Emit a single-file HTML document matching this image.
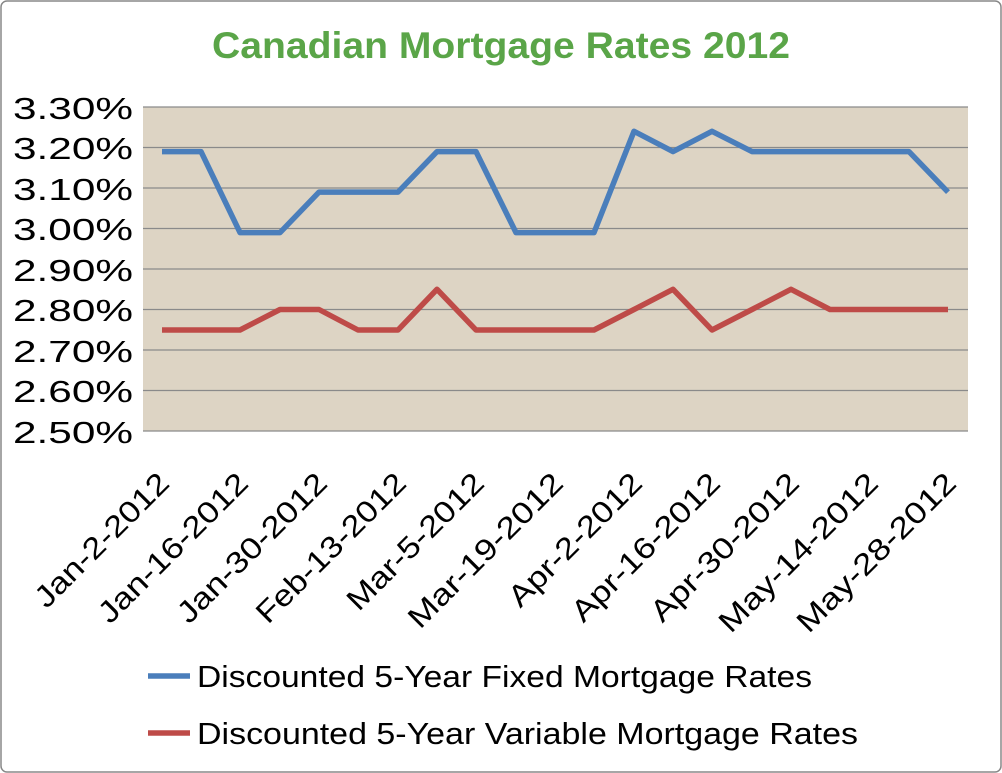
<!DOCTYPE html>
<html><head><style>body{margin:0;background:#fff}svg{display:block}</style></head><body>
<svg width="1002" height="773" xmlns="http://www.w3.org/2000/svg" font-family="Liberation Sans, sans-serif">
<rect x="1" y="1" width="1000" height="771" rx="6" fill="#fff" stroke="#888" stroke-width="1.5"/>
<text x="501" y="58" text-anchor="middle" font-size="37" font-weight="bold" fill="#5aa548" textLength="578" lengthAdjust="spacingAndGlyphs">Canadian Mortgage Rates 2012</text>
<rect x="143" y="107" width="825" height="324" fill="#ddd4c4"/>
<g stroke="#8a8a8a" stroke-width="1.3">
<line x1="143" y1="107" x2="968" y2="107"/><line x1="143" y1="147.5" x2="968" y2="147.5"/><line x1="143" y1="188" x2="968" y2="188"/><line x1="143" y1="228.5" x2="968" y2="228.5"/><line x1="143" y1="269" x2="968" y2="269"/><line x1="143" y1="309.5" x2="968" y2="309.5"/><line x1="143" y1="350" x2="968" y2="350"/><line x1="143" y1="390.5" x2="968" y2="390.5"/><line x1="143" y1="431" x2="968" y2="431"/>
</g>
<g font-size="31" text-anchor="end" fill="#000">
<text x="133" y="119" textLength="120" lengthAdjust="spacingAndGlyphs">3.30%</text><text x="133" y="159" textLength="120" lengthAdjust="spacingAndGlyphs">3.20%</text><text x="133" y="200" textLength="120" lengthAdjust="spacingAndGlyphs">3.10%</text><text x="133" y="240" textLength="120" lengthAdjust="spacingAndGlyphs">3.00%</text><text x="133" y="281" textLength="120" lengthAdjust="spacingAndGlyphs">2.90%</text><text x="133" y="321" textLength="120" lengthAdjust="spacingAndGlyphs">2.80%</text><text x="133" y="362" textLength="120" lengthAdjust="spacingAndGlyphs">2.70%</text><text x="133" y="402" textLength="120" lengthAdjust="spacingAndGlyphs">2.60%</text><text x="133" y="443" textLength="120" lengthAdjust="spacingAndGlyphs">2.50%</text>
</g>
<polyline fill="none" stroke="#4a7ebb" stroke-width="5.5" stroke-linejoin="round" points="162,151.6 201,151.6 240,232.6 280,232.6 319,192.1 358,192.1 398,192.1 437,151.6 476,151.6 516,232.6 555,232.6 594,232.6 634,131.3 673,151.6 712,131.3 752,151.6 791,151.6 830,151.6 870,151.6 909,151.6 948,192.1"/>
<polyline fill="none" stroke="#be4b48" stroke-width="5.5" stroke-linejoin="round" points="162,330 201,330 240,330 280,309.5 319,309.5 358,330 398,330 437,289.3 476,330 516,330 555,330 594,330 634,309.5 673,289.3 712,330 752,309.5 791,289.3 830,309.5 870,309.5 909,309.5 948,309.5"/>
<g font-size="30" text-anchor="end" fill="#000">
<text transform="translate(171,485) rotate(-45)" textLength="176" lengthAdjust="spacingAndGlyphs">Jan-2-2012</text>
<text transform="translate(250,485) rotate(-45)" textLength="198" lengthAdjust="spacingAndGlyphs">Jan-16-2012</text>
<text transform="translate(329,485) rotate(-45)" textLength="198" lengthAdjust="spacingAndGlyphs">Jan-30-2012</text>
<text transform="translate(408,485) rotate(-45)" textLength="198" lengthAdjust="spacingAndGlyphs">Feb-13-2012</text>
<text transform="translate(486,485) rotate(-45)" textLength="180" lengthAdjust="spacingAndGlyphs">Mar-5-2012</text>
<text transform="translate(565,485) rotate(-45)" textLength="205" lengthAdjust="spacingAndGlyphs">Mar-19-2012</text>
<text transform="translate(644,485) rotate(-45)" textLength="175" lengthAdjust="spacingAndGlyphs">Apr-2-2012</text>
<text transform="translate(722,485) rotate(-45)" textLength="196" lengthAdjust="spacingAndGlyphs">Apr-16-2012</text>
<text transform="translate(801,485) rotate(-45)" textLength="196" lengthAdjust="spacingAndGlyphs">Apr-30-2012</text>
<text transform="translate(880,485) rotate(-45)" textLength="211" lengthAdjust="spacingAndGlyphs">May-14-2012</text>
<text transform="translate(958,485) rotate(-45)" textLength="211" lengthAdjust="spacingAndGlyphs">May-28-2012</text>
</g>
<line x1="148" y1="676" x2="190" y2="676" stroke="#4a7ebb" stroke-width="5.5"/>
<text x="197" y="687" font-size="31" textLength="615" lengthAdjust="spacingAndGlyphs">Discounted 5-Year Fixed Mortgage Rates</text>
<line x1="148" y1="733" x2="190" y2="733" stroke="#be4b48" stroke-width="5.5"/>
<text x="197" y="744" font-size="31" textLength="661" lengthAdjust="spacingAndGlyphs">Discounted 5-Year Variable Mortgage Rates</text>
</svg>
</body></html>
